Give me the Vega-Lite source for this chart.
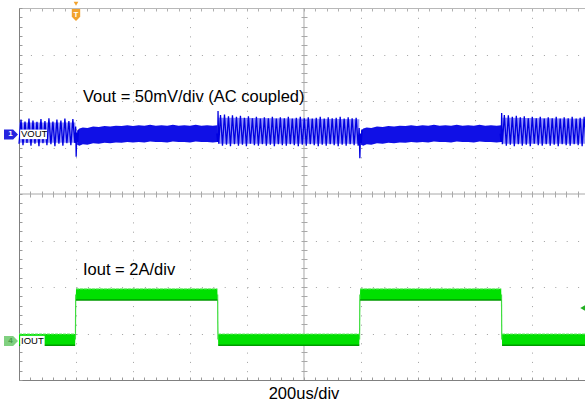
{
 "$schema": "https://vega.github.io/schema/vega-lite/v6.json",
 "width": 566,
 "height": 372,
 "autosize": {"type": "none"},
 "padding": {"left": 19, "top": 8, "right": 0, "bottom": 22},
 "background": "white",
 "config": {"view": {"stroke": null}, "font": "Liberation Sans"},
 "datasets": {
  "vline": [
   {"s":"A","t":0.000,"v":1.08},{"s":"A","t":0.035,"v":1.60},{"s":"A","t":0.070,"v":1.05},{"s":"A","t":0.105,"v":1.56},
   {"s":"A","t":0.140,"v":1.10},{"s":"A","t":0.175,"v":1.62},{"s":"A","t":0.210,"v":1.04},{"s":"A","t":0.245,"v":1.58},
   {"s":"A","t":0.280,"v":1.08},{"s":"A","t":0.315,"v":1.55},{"s":"A","t":0.350,"v":1.03},{"s":"A","t":0.385,"v":1.61},
   {"s":"A","t":0.420,"v":1.09},{"s":"A","t":0.455,"v":1.57},{"s":"A","t":0.490,"v":1.05},{"s":"A","t":0.525,"v":1.63},
   {"s":"A","t":0.560,"v":1.07},{"s":"A","t":0.595,"v":1.56},{"s":"A","t":0.630,"v":1.03},{"s":"A","t":0.665,"v":1.60},
   {"s":"A","t":0.700,"v":1.08},{"s":"A","t":0.735,"v":1.58},{"s":"A","t":0.770,"v":1.04},{"s":"A","t":0.805,"v":1.62},
   {"s":"A","t":0.840,"v":1.09},{"s":"A","t":0.875,"v":1.57},{"s":"A","t":0.910,"v":1.05},{"s":"A","t":0.945,"v":1.61},
   {"s":"A","t":0.980,"v":1.10},{"s":"A","t":0.995,"v":1.45},{"s":"A","t":1.003,"v":0.80},{"s":"A","t":1.015,"v":1.32},
   {"s":"A","t":1.030,"v":1.12},{"s":"A","t":1.045,"v":1.38},
   {"s":"B","t":3.470,"v":1.30},{"s":"B","t":3.485,"v":1.12},{"s":"B","t":3.492,"v":1.785},{"s":"B","t":3.505,"v":1.08},
   {"s":"B","t":3.535,"v":1.70},{"s":"B","t":3.570,"v":1.04},{"s":"B","t":3.605,"v":1.71},{"s":"B","t":3.640,"v":1.06},
   {"s":"B","t":3.675,"v":1.67},{"s":"B","t":3.710,"v":1.03},{"s":"B","t":3.745,"v":1.69},{"s":"B","t":3.780,"v":1.07},
   {"s":"B","t":3.815,"v":1.66},{"s":"B","t":3.850,"v":1.04},{"s":"B","t":3.885,"v":1.68},{"s":"B","t":3.920,"v":1.06},
   {"s":"B","t":3.955,"v":1.64},{"s":"B","t":3.990,"v":1.03},{"s":"B","t":4.025,"v":1.67},{"s":"B","t":4.060,"v":1.08},
   {"s":"B","t":4.095,"v":1.63},{"s":"B","t":4.130,"v":1.05},{"s":"B","t":4.165,"v":1.66},{"s":"B","t":4.200,"v":1.04},
   {"s":"B","t":4.235,"v":1.62},{"s":"B","t":4.270,"v":1.07},{"s":"B","t":4.305,"v":1.65},{"s":"B","t":4.340,"v":1.04},
   {"s":"B","t":4.375,"v":1.63},{"s":"B","t":4.410,"v":1.06},{"s":"B","t":4.445,"v":1.66},{"s":"B","t":4.480,"v":1.03},
   {"s":"B","t":4.515,"v":1.62},{"s":"B","t":4.550,"v":1.07},{"s":"B","t":4.585,"v":1.65},{"s":"B","t":4.620,"v":1.05},
   {"s":"B","t":4.655,"v":1.63},{"s":"B","t":4.690,"v":1.04},{"s":"B","t":4.725,"v":1.66},{"s":"B","t":4.760,"v":1.07},
   {"s":"B","t":4.795,"v":1.62},{"s":"B","t":4.830,"v":1.05},{"s":"B","t":4.865,"v":1.64},{"s":"B","t":4.900,"v":1.03},
   {"s":"B","t":4.935,"v":1.66},{"s":"B","t":4.970,"v":1.06},{"s":"B","t":5.005,"v":1.63},{"s":"B","t":5.040,"v":1.04},
   {"s":"B","t":5.075,"v":1.65},{"s":"B","t":5.110,"v":1.07},{"s":"B","t":5.145,"v":1.62},{"s":"B","t":5.180,"v":1.05},
   {"s":"B","t":5.215,"v":1.64},{"s":"B","t":5.250,"v":1.03},{"s":"B","t":5.285,"v":1.66},{"s":"B","t":5.320,"v":1.06},
   {"s":"B","t":5.355,"v":1.62},{"s":"B","t":5.390,"v":1.04},{"s":"B","t":5.425,"v":1.65},{"s":"B","t":5.460,"v":1.07},
   {"s":"B","t":5.495,"v":1.63},{"s":"B","t":5.530,"v":1.05},{"s":"B","t":5.565,"v":1.64},{"s":"B","t":5.600,"v":1.03},
   {"s":"B","t":5.635,"v":1.66},{"s":"B","t":5.670,"v":1.06},{"s":"B","t":5.705,"v":1.62},{"s":"B","t":5.740,"v":1.04},
   {"s":"B","t":5.775,"v":1.65},{"s":"B","t":5.810,"v":1.07},{"s":"B","t":5.845,"v":1.63},{"s":"B","t":5.880,"v":1.05},
   {"s":"B","t":5.915,"v":1.64},{"s":"B","t":5.950,"v":1.04},{"s":"B","t":5.968,"v":1.42},{"s":"B","t":5.980,"v":0.77},
   {"s":"B","t":5.992,"v":1.30},{"s":"B","t":6.005,"v":1.10},{"s":"B","t":6.020,"v":1.38},
   {"s":"C","t":8.440,"v":1.30},{"s":"C","t":8.458,"v":1.12},{"s":"C","t":8.468,"v":1.74},{"s":"C","t":8.480,"v":1.07},
   {"s":"C","t":8.515,"v":1.70},{"s":"C","t":8.550,"v":1.04},{"s":"C","t":8.585,"v":1.69},{"s":"C","t":8.620,"v":1.06},
   {"s":"C","t":8.655,"v":1.66},{"s":"C","t":8.690,"v":1.03},{"s":"C","t":8.725,"v":1.68},{"s":"C","t":8.760,"v":1.07},
   {"s":"C","t":8.795,"v":1.65},{"s":"C","t":8.830,"v":1.04},{"s":"C","t":8.865,"v":1.67},{"s":"C","t":8.900,"v":1.06},
   {"s":"C","t":8.935,"v":1.63},{"s":"C","t":8.970,"v":1.03},{"s":"C","t":9.005,"v":1.66},{"s":"C","t":9.040,"v":1.08},
   {"s":"C","t":9.075,"v":1.63},{"s":"C","t":9.110,"v":1.05},{"s":"C","t":9.145,"v":1.66},{"s":"C","t":9.180,"v":1.04},
   {"s":"C","t":9.215,"v":1.62},{"s":"C","t":9.250,"v":1.07},{"s":"C","t":9.285,"v":1.65},{"s":"C","t":9.320,"v":1.04},
   {"s":"C","t":9.355,"v":1.63},{"s":"C","t":9.390,"v":1.06},{"s":"C","t":9.425,"v":1.66},{"s":"C","t":9.460,"v":1.03},
   {"s":"C","t":9.495,"v":1.62},{"s":"C","t":9.530,"v":1.07},{"s":"C","t":9.565,"v":1.65},{"s":"C","t":9.600,"v":1.05},
   {"s":"C","t":9.635,"v":1.63},{"s":"C","t":9.670,"v":1.04},{"s":"C","t":9.705,"v":1.66},{"s":"C","t":9.740,"v":1.07},
   {"s":"C","t":9.775,"v":1.62},{"s":"C","t":9.810,"v":1.05},{"s":"C","t":9.845,"v":1.64},{"s":"C","t":9.880,"v":1.03},
   {"s":"C","t":9.915,"v":1.66},{"s":"C","t":9.950,"v":1.06}
  ],
  "vspk": [
   {"s":"A","t":0,"lo":1.10,"hi":1.54},{"s":"A","t":0.99,"lo":1.10,"hi":1.54},
   {"s":"B","t":3.50,"lo":1.08,"hi":1.64},{"s":"B","t":5.97,"lo":1.08,"hi":1.61},
   {"s":"C","t":8.48,"lo":1.08,"hi":1.64},{"s":"C","t":9.95,"lo":1.08,"hi":1.62}
  ],
  "vden": [
   {"s":"D1","t":1.02,"lo":1.06,"hi":1.36},{"s":"D1","t":1.06,"lo":1.04,"hi":1.41},{"s":"D1","t":1.12,"lo":1.07,"hi":1.43},
   {"s":"D1","t":1.20,"lo":1.06,"hi":1.42},{"s":"D1","t":1.30,"lo":1.09,"hi":1.45},{"s":"D1","t":1.40,"lo":1.08,"hi":1.44},
   {"s":"D1","t":1.50,"lo":1.10,"hi":1.46},{"s":"D1","t":1.60,"lo":1.09,"hi":1.45},{"s":"D1","t":1.70,"lo":1.11,"hi":1.47},
   {"s":"D1","t":1.80,"lo":1.10,"hi":1.46},{"s":"D1","t":1.90,"lo":1.12,"hi":1.48},{"s":"D1","t":2.00,"lo":1.11,"hi":1.46},
   {"s":"D1","t":2.10,"lo":1.12,"hi":1.48},{"s":"D1","t":2.20,"lo":1.11,"hi":1.47},{"s":"D1","t":2.30,"lo":1.13,"hi":1.49},
   {"s":"D1","t":2.40,"lo":1.12,"hi":1.47},{"s":"D1","t":2.50,"lo":1.12,"hi":1.48},{"s":"D1","t":2.60,"lo":1.11,"hi":1.47},
   {"s":"D1","t":2.70,"lo":1.13,"hi":1.49},{"s":"D1","t":2.80,"lo":1.12,"hi":1.47},{"s":"D1","t":2.90,"lo":1.12,"hi":1.48},
   {"s":"D1","t":3.00,"lo":1.11,"hi":1.47},{"s":"D1","t":3.10,"lo":1.13,"hi":1.49},{"s":"D1","t":3.20,"lo":1.12,"hi":1.47},
   {"s":"D1","t":3.30,"lo":1.12,"hi":1.48},{"s":"D1","t":3.40,"lo":1.11,"hi":1.47},{"s":"D1","t":3.48,"lo":1.12,"hi":1.48},
   {"s":"D2","t":6.00,"lo":1.06,"hi":1.36},{"s":"D2","t":6.04,"lo":1.04,"hi":1.41},{"s":"D2","t":6.10,"lo":1.07,"hi":1.43},
   {"s":"D2","t":6.18,"lo":1.06,"hi":1.42},{"s":"D2","t":6.28,"lo":1.09,"hi":1.45},{"s":"D2","t":6.38,"lo":1.08,"hi":1.44},
   {"s":"D2","t":6.48,"lo":1.10,"hi":1.46},{"s":"D2","t":6.58,"lo":1.09,"hi":1.45},{"s":"D2","t":6.68,"lo":1.11,"hi":1.47},
   {"s":"D2","t":6.78,"lo":1.10,"hi":1.46},{"s":"D2","t":6.88,"lo":1.12,"hi":1.48},{"s":"D2","t":6.98,"lo":1.11,"hi":1.46},
   {"s":"D2","t":7.08,"lo":1.12,"hi":1.48},{"s":"D2","t":7.18,"lo":1.11,"hi":1.47},{"s":"D2","t":7.28,"lo":1.13,"hi":1.49},
   {"s":"D2","t":7.38,"lo":1.12,"hi":1.47},{"s":"D2","t":7.48,"lo":1.12,"hi":1.48},{"s":"D2","t":7.58,"lo":1.11,"hi":1.47},
   {"s":"D2","t":7.68,"lo":1.13,"hi":1.49},{"s":"D2","t":7.78,"lo":1.12,"hi":1.47},{"s":"D2","t":7.88,"lo":1.12,"hi":1.48},
   {"s":"D2","t":7.98,"lo":1.11,"hi":1.47},{"s":"D2","t":8.08,"lo":1.13,"hi":1.49},{"s":"D2","t":8.18,"lo":1.12,"hi":1.47},
   {"s":"D2","t":8.28,"lo":1.12,"hi":1.48},{"s":"D2","t":8.38,"lo":1.11,"hi":1.47},{"s":"D2","t":8.46,"lo":1.12,"hi":1.48}
  ],
  "iout": [
   {"t":0.000,"lo":-3.25,"hi":-3.01},{"t":0.985,"lo":-3.25,"hi":-3.01},
   {"t":1.000,"lo":-2.28,"hi":-2.04},{"t":3.480,"lo":-2.28,"hi":-2.04},
   {"t":3.495,"lo":-3.25,"hi":-3.01},{"t":5.970,"lo":-3.25,"hi":-3.01},
   {"t":5.985,"lo":-2.28,"hi":-2.04},{"t":8.460,"lo":-2.28,"hi":-2.04},
   {"t":8.475,"lo":-3.25,"hi":-3.01},{"t":9.950,"lo":-3.25,"hi":-3.01}
  ],
  "ibot": [
   {"g":"1","t":0.0,"v":-3.25},{"g":"1","t":0.985,"v":-3.25},
   {"g":"2","t":1.0,"v":-2.28},{"g":"2","t":3.48,"v":-2.28},
   {"g":"3","t":3.495,"v":-3.25},{"g":"3","t":5.97,"v":-3.25},
   {"g":"4","t":5.985,"v":-2.28},{"g":"4","t":8.46,"v":-2.28},
   {"g":"5","t":8.475,"v":-3.25},{"g":"5","t":9.95,"v":-3.25}
  ],
  "itop": [
   {"g":"1","t":0.0,"v":-3.01},{"g":"1","t":0.985,"v":-3.01},
   {"g":"2","t":1.0,"v":-2.04},{"g":"2","t":3.48,"v":-2.04},
   {"g":"3","t":3.495,"v":-3.01},{"g":"3","t":5.97,"v":-3.01},
   {"g":"4","t":5.985,"v":-2.04},{"g":"4","t":8.46,"v":-2.04},
   {"g":"5","t":8.475,"v":-3.01},{"g":"5","t":9.95,"v":-3.01}
  ],
  "itrans": [
   {"g":"1","t":0.99,"v":-3.13},{"g":"1","t":0.995,"v":-2.16},
   {"g":"2","t":3.485,"v":-2.16},{"g":"2","t":3.49,"v":-3.13},
   {"g":"3","t":5.975,"v":-3.13},{"g":"3","t":5.98,"v":-2.16},
   {"g":"4","t":8.465,"v":-2.16},{"g":"4","t":8.47,"v":-3.13}
  ]
 },
 "resolve": {"axis": {"x": "independent", "y": "independent"}},
 "layer": [
  {
   "data": {"values": [{"t": 5}]},
   "mark": {"type": "rule", "color": "#a8a8a8", "strokeWidth": 1},
   "encoding": {
    "x": {"field": "t", "type": "quantitative", "scale": {"domain": [0, 9.93], "nice": false, "zero": false},
     "axis": {"orient": "bottom", "title": null, "labels": false, "grid": false, "domain": true, "domainColor": "#808080", "domainWidth": 1, "ticks": true, "tickSize": -3, "tickColor": "#9a9a9a", "tickWidth": 1,
      "values": [0,0.2,0.4,0.6,0.8,1,1.2,1.4,1.6,1.8,2,2.2,2.4,2.6,2.8,3,3.2,3.4,3.6,3.8,4,4.2,4.4,4.6,4.8,5,5.2,5.4,5.6,5.8,6,6.2,6.4,6.6,6.8,7,7.2,7.4,7.6,7.8,8,8.2,8.4,8.6,8.8,9,9.2,9.4,9.6,9.8]}}
   }
  },
  {
   "data": {"values": [{"v": 0}]},
   "mark": {"type": "rule", "color": "#a8a8a8", "strokeWidth": 1},
   "encoding": {
    "y": {"field": "v", "type": "quantitative", "scale": {"domain": [-4, 4], "nice": false, "zero": false},
     "axis": {"orient": "left", "title": null, "labels": false, "grid": false, "domain": true, "domainColor": "#808080", "domainWidth": 1, "ticks": true, "tickSize": -3, "tickColor": "#9a9a9a", "tickWidth": 1,
      "values": [-4,-3.8,-3.6,-3.4,-3.2,-3,-2.8,-2.6,-2.4,-2.2,-2,-1.8,-1.6,-1.4,-1.2,-1,-0.8,-0.6,-0.4,-0.2,0,0.2,0.4,0.6,0.8,1,1.2,1.4,1.6,1.8,2,2.2,2.4,2.6,2.8,3,3.2,3.4,3.6,3.8,4]}}
   }
  },
  {
   "data": {"name": "vspk"},
   "mark": {"type": "area", "orient": "vertical", "color": "#6f6ff5", "opacity": 0.75},
   "encoding": {
    "x": {"field": "t", "type": "quantitative", "scale": {"domain": [0, 9.93], "nice": false, "zero": false},
     "axis": {"orient": "top", "title": null, "labels": false, "grid": false, "domain": true, "domainColor": "#b8b8b8", "domainWidth": 1, "ticks": true, "tickSize": -3, "tickColor": "#b0b0b0",
      "values": [0,0.2,0.4,0.6,0.8,1,1.2,1.4,1.6,1.8,2,2.2,2.4,2.6,2.8,3,3.2,3.4,3.6,3.8,4,4.2,4.4,4.6,4.8,5,5.2,5.4,5.6,5.8,6,6.2,6.4,6.6,6.8,7,7.2,7.4,7.6,7.8,8,8.2,8.4,8.6,8.8,9,9.2,9.4,9.6,9.8]}},
    "y": {"field": "lo", "type": "quantitative", "stack": null, "scale": {"domain": [-4, 4], "nice": false, "zero": false},
     "axis": {"orient": "left", "title": null, "labels": false, "domain": false, "ticks": false, "grid": true, "gridColor": "#a0a0a0", "gridWidth": 1, "gridDash": [1, 10.4], "values": [-3,-2,-1,1,2,3]}},
    "y2": {"field": "hi"},
    "detail": {"field": "s"}
   }
  },
  {
   "data": {"name": "vden"},
   "mark": {"type": "area", "orient": "vertical", "color": "#1010e6"},
   "encoding": {
    "x": {"field": "t", "type": "quantitative", "scale": {"domain": [0, 9.93], "nice": false, "zero": false},
     "axis": {"orient": "bottom", "title": null, "labels": false, "domain": false, "ticks": false, "grid": true, "gridColor": "#a0a0a0", "gridWidth": 1, "gridDash": [1, 8.3], "values": [1,2,3,4,6,7,8,9]}},
    "y": {"field": "lo", "type": "quantitative", "stack": null, "scale": {"domain": [-4, 4], "nice": false, "zero": false},
     "axis": {"orient": "left", "offset": -288, "title": null, "labels": false, "domain": false, "grid": false, "ticks": true, "tickSize": 6, "tickColor": "#a8a8a8",
      "values": [-3.8,-3.6,-3.4,-3.2,-3,-2.8,-2.6,-2.4,-2.2,-2,-1.8,-1.6,-1.4,-1.2,-1,-0.8,-0.6,-0.4,-0.2,0.2,0.4,0.6,0.8,1,1.2,1.4,1.6,1.8,2,2.2,2.4,2.6,2.8,3,3.2,3.4,3.6,3.8]}},
    "y2": {"field": "hi"},
    "detail": {"field": "s"}
   }
  },
  {
   "data": {"name": "vline"},
   "mark": {"type": "line", "color": "#0000e0", "strokeWidth": 1.3},
   "encoding": {
    "x": {"field": "t", "type": "quantitative", "scale": {"domain": [0, 9.93], "nice": false, "zero": false},
     "axis": {"orient": "bottom", "offset": -189, "title": null, "labels": false, "domain": false, "grid": false, "ticks": true, "tickSize": 6, "tickColor": "#a8a8a8",
      "values": [0.2,0.4,0.6,0.8,1,1.2,1.4,1.6,1.8,2,2.2,2.4,2.6,2.8,3,3.2,3.4,3.6,3.8,4,4.2,4.4,4.6,4.8,5.2,5.4,5.6,5.8,6,6.2,6.4,6.6,6.8,7,7.2,7.4,7.6,7.8,8,8.2,8.4,8.6,8.8,9,9.2,9.4,9.6,9.8]}},
    "y": {"field": "v", "type": "quantitative", "scale": {"domain": [-4, 4], "nice": false, "zero": false}, "axis": null},
    "detail": {"field": "s"}
   }
  },
  {
   "data": {"name": "iout"},
   "mark": {"type": "area", "orient": "vertical", "color": "#00e000"},
   "encoding": {
    "x": {"field": "t", "type": "quantitative", "scale": {"domain": [0, 9.93], "nice": false, "zero": false}, "axis": null},
    "y": {"field": "lo", "type": "quantitative", "stack": null, "scale": {"domain": [-4, 4], "nice": false, "zero": false}, "axis": null},
    "y2": {"field": "hi"}
   }
  },
  {
   "data": {"name": "itrans"},
   "mark": {"type": "line", "color": "#40dd40", "strokeWidth": 1.2},
   "encoding": {
    "x": {"field": "t", "type": "quantitative", "scale": {"domain": [0, 9.93], "nice": false, "zero": false}, "axis": null},
    "y": {"field": "v", "type": "quantitative", "scale": {"domain": [-4, 4], "nice": false, "zero": false}, "axis": null},
    "detail": {"field": "g"}
   }
  },
  {
   "data": {"name": "ibot"},
   "mark": {"type": "line", "color": "#009a00", "strokeWidth": 1.5},
   "encoding": {
    "x": {"field": "t", "type": "quantitative", "scale": {"domain": [0, 9.93], "nice": false, "zero": false}, "axis": null},
    "y": {"field": "v", "type": "quantitative", "scale": {"domain": [-4, 4], "nice": false, "zero": false}, "axis": null},
    "detail": {"field": "g"}
   }
  },
  {
   "data": {"name": "itop"},
   "mark": {"type": "line", "color": "#70e870", "strokeWidth": 1, "strokeDash": [3, 1]},
   "encoding": {
    "x": {"field": "t", "type": "quantitative", "scale": {"domain": [0, 9.93], "nice": false, "zero": false}, "axis": null},
    "y": {"field": "v", "type": "quantitative", "scale": {"domain": [-4, 4], "nice": false, "zero": false}, "axis": null},
    "detail": {"field": "g"}
   }
  },
  {
   "data": {"values": [{"t1": 0.02, "t2": 0.49, "v1": 1.18, "v2": 1.385}, {"t1": 0.02, "t2": 0.45, "v1": -3.05, "v2": -3.28}]},
   "mark": {"type": "rect", "color": "white"},
   "encoding": {
    "x": {"field": "t1", "type": "quantitative", "scale": {"domain": [0, 9.93], "nice": false, "zero": false}, "axis": null},
    "x2": {"field": "t2"},
    "y": {"field": "v1", "type": "quantitative", "scale": {"domain": [-4, 4], "nice": false, "zero": false}, "axis": null},
    "y2": {"field": "v2"}
   }
  },
  {
   "data": {"values": [{"t": 0.035, "v": 1.28, "txt": "VOUT"}, {"t": 0.035, "v": -3.161, "txt": "IOUT"}]},
   "mark": {"type": "text", "align": "left", "baseline": "middle", "fontSize": 9.5, "color": "#000000", "font": "Liberation Sans"},
   "encoding": {
    "x": {"field": "t", "type": "quantitative", "scale": {"domain": [0, 9.93], "nice": false, "zero": false}, "axis": null},
    "y": {"field": "v", "type": "quantitative", "scale": {"domain": [-4, 4], "nice": false, "zero": false}, "axis": null},
    "text": {"field": "txt"}
   }
  },
  {
   "data": {"values": [{"t": -0.14, "v": 1.28}]},
   "mark": {"type": "point", "filled": true, "opacity": 1, "color": "#2424e0", "size": 196, "shape": "M-1,-0.7L0.3,-0.7L1,0L0.3,0.7L-1,0.7Z"},
   "encoding": {
    "x": {"field": "t", "type": "quantitative", "scale": {"domain": [0, 9.93], "nice": false, "zero": false}, "axis": null},
    "y": {"field": "v", "type": "quantitative", "scale": {"domain": [-4, 4], "nice": false, "zero": false}, "axis": null}
   }
  },
  {
   "data": {"values": [{"t": -0.14, "v": -3.161}]},
   "mark": {"type": "point", "filled": true, "opacity": 1, "color": "#80d080", "size": 196, "shape": "M-1,-0.7L0.3,-0.7L1,0L0.3,0.7L-1,0.7Z"},
   "encoding": {
    "x": {"field": "t", "type": "quantitative", "scale": {"domain": [0, 9.93], "nice": false, "zero": false}, "axis": null},
    "y": {"field": "v", "type": "quantitative", "scale": {"domain": [-4, 4], "nice": false, "zero": false}, "axis": null}
   }
  },
  {
   "data": {"values": [{"t": 1.0, "v": 3.85}]},
   "mark": {"type": "point", "filled": true, "opacity": 1, "color": "#f2a22e", "size": 144, "shape": "M-0.7,-1L0.7,-1L0.7,0.3L0,1L-0.7,0.3Z"},
   "encoding": {
    "x": {"field": "t", "type": "quantitative", "scale": {"domain": [0, 9.93], "nice": false, "zero": false}, "axis": null},
    "y": {"field": "v", "type": "quantitative", "scale": {"domain": [-4, 4], "nice": false, "zero": false}, "axis": null}
   }
  },
  {
   "data": {"values": [{"t": 1.0, "v": 4.09}]},
   "mark": {"type": "point", "filled": true, "opacity": 1, "color": "#f2a22e", "size": 22, "shape": "triangle-down"},
   "encoding": {
    "x": {"field": "t", "type": "quantitative", "scale": {"domain": [0, 9.93], "nice": false, "zero": false}, "axis": null},
    "y": {"field": "v", "type": "quantitative", "scale": {"domain": [-4, 4], "nice": false, "zero": false}, "axis": null}
   }
  },
  {
   "data": {"values": [{"t": 9.895, "v": -2.452}]},
   "mark": {"type": "point", "filled": true, "opacity": 1, "color": "#22b022", "size": 40, "shape": "triangle-left"},
   "encoding": {
    "x": {"field": "t", "type": "quantitative", "scale": {"domain": [0, 9.93], "nice": false, "zero": false}, "axis": null},
    "y": {"field": "v", "type": "quantitative", "scale": {"domain": [-4, 4], "nice": false, "zero": false}, "axis": null}
   }
  },
  {
   "data": {"values": [{"t": -0.15, "v": 1.28, "txt": "1"}, {"t": 1.0, "v": 3.86, "txt": "T"}]},
   "mark": {"type": "text", "align": "center", "baseline": "middle", "fontSize": 8, "fontWeight": "bold", "color": "#ffffff", "font": "Liberation Sans"},
   "encoding": {
    "x": {"field": "t", "type": "quantitative", "scale": {"domain": [0, 9.93], "nice": false, "zero": false}, "axis": null},
    "y": {"field": "v", "type": "quantitative", "scale": {"domain": [-4, 4], "nice": false, "zero": false}, "axis": null},
    "text": {"field": "txt"}
   }
  },
  {
   "data": {"values": [{"t": -0.15, "v": -3.161, "txt": "4"}]},
   "mark": {"type": "text", "align": "center", "baseline": "middle", "fontSize": 8, "fontWeight": "bold", "color": "#4a9a4a", "font": "Liberation Sans"},
   "encoding": {
    "x": {"field": "t", "type": "quantitative", "scale": {"domain": [0, 9.93], "nice": false, "zero": false}, "axis": null},
    "y": {"field": "v", "type": "quantitative", "scale": {"domain": [-4, 4], "nice": false, "zero": false}, "axis": null},
    "text": {"field": "txt"}
   }
  },
  {
   "data": {"values": [{"t": 1.123, "v": 1.978, "txt": "Vout = 50mV/div (AC coupled)"}, {"t": 1.123, "v": -1.742, "txt": "Iout = 2A/div"}]},
   "mark": {"type": "text", "align": "left", "baseline": "alphabetic", "fontSize": 16.5, "color": "#000000", "font": "Liberation Sans"},
   "encoding": {
    "x": {"field": "t", "type": "quantitative", "scale": {"domain": [0, 9.93], "nice": false, "zero": false}, "axis": null},
    "y": {"field": "v", "type": "quantitative", "scale": {"domain": [-4, 4], "nice": false, "zero": false}, "axis": null},
    "text": {"field": "txt"}
   }
  },
  {
   "data": {"values": [{"t": 5.0, "v": -4.409, "txt": "200us/div"}]},
   "mark": {"type": "text", "align": "center", "baseline": "alphabetic", "fontSize": 16.5, "color": "#000000", "font": "Liberation Sans"},
   "encoding": {
    "x": {"field": "t", "type": "quantitative", "scale": {"domain": [0, 9.93], "nice": false, "zero": false}, "axis": null},
    "y": {"field": "v", "type": "quantitative", "scale": {"domain": [-4, 4], "nice": false, "zero": false}, "axis": null},
    "text": {"field": "txt"}
   }
  }
 ]
}
